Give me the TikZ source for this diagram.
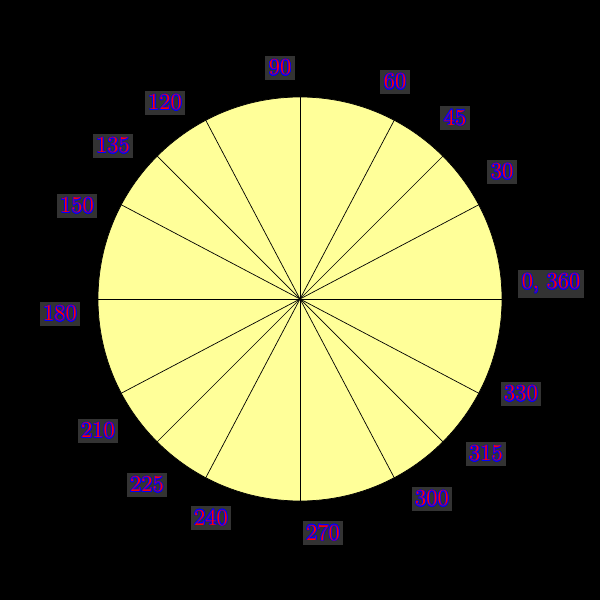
\documentclass[tikz,border=0pt]{standalone}
\usepackage{tikz}
\usepackage{contour}
\contourlength{0.45pt}
\definecolor{pale}{HTML}{FFFF99}
\definecolor{tagbg}{HTML}{333333}
\newcommand{\angtxt}[1]{\contour{blue}{\textcolor{red}{#1}}}

\begin{document}
\begin{tikzpicture}[lbl/.style={fill=tagbg,inner sep=2pt,font=\fontsize{13}{13}\selectfont}]
\fill[black] (0,0) rectangle (12,12);
\useasboundingbox (0,0) rectangle (12,12);
\coordinate (c) at (6,6.02);
\draw[fill=pale] (c) circle (4.04);
\foreach \a in {0,27.8,45,62.2,90,117.8,135,152.2,180,207.8,225,242.2,270,297.8,315,332.2}
  \draw (c) -- ++(\a:4.04);
\node[lbl] (l0) at (11.02,6.32) {\angtxt{0, 360}};
\node[lbl] (l30) at (10.04,8.56) {\angtxt{30}};
\node[lbl] (l45) at (9.10,9.64) {\angtxt{45}};
\node[lbl] (l60) at (7.90,10.36) {\angtxt{60}};
\node[lbl] (l90) at (5.60,10.64) {\angtxt{90}};
\node[lbl] (l120) at (3.30,9.94) {\angtxt{120}};
\node[lbl] (l135) at (2.26,9.08) {\angtxt{135}};
\node[lbl] (l150) at (1.54,7.88) {\angtxt{150}};
\node[lbl] (l180) at (1.20,5.72) {\angtxt{180}};
\node[lbl] (l210) at (1.96,3.38) {\angtxt{210}};
\node[lbl] (l225) at (2.94,2.30) {\angtxt{225}};
\node[lbl] (l240) at (4.22,1.64) {\angtxt{240}};
\node[lbl] (l270) at (6.46,1.34) {\angtxt{270}};
\node[lbl] (l300) at (8.64,2.02) {\angtxt{300}};
\node[lbl] (l315) at (9.72,2.92) {\angtxt{315}};
\node[lbl] (l330) at (10.42,4.12) {\angtxt{330}};
\end{tikzpicture}
\end{document}
